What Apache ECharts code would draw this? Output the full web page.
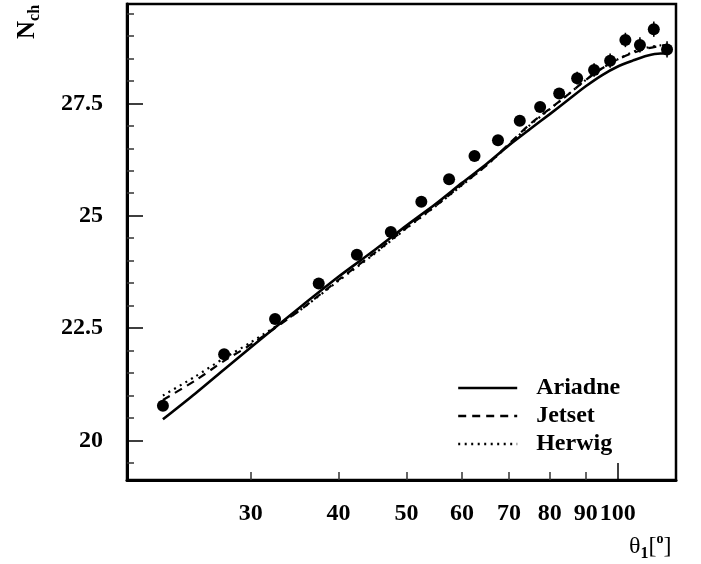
<!DOCTYPE html>
<html>
<head>
<meta charset="utf-8">
<script src="https://cdn.jsdelivr.net/npm/echarts@6/dist/echarts.min.js"></script>
<style>
html,body{margin:0;padding:0;background:#fff;}
#chart{width:701px;height:564px;}
</style>
</head>
<body>
<div id="chart"></div>
<script>
// ---- data ----
const xBins = [22.5,27.5,32.5,37.5,42.5,47.5,52.5,57.5,62.5,67.5,72.5,77.5,82.5,87.5,92.5,97.5,102.5,107.5,112.5,117.5];
const nchData = [20.77,21.92,22.70,23.49,24.13,24.64,25.31,25.81,26.33,26.68,27.11,27.42,27.72,28.06,28.24,28.45,28.91,28.80,29.15,28.70];
const nchErr = [0.05,0.05,0.05,0.06,0.06,0.06,0.07,0.07,0.08,0.08,0.09,0.10,0.12,0.14,0.15,0.16,0.16,0.17,0.17,0.18];

const modelX = [22.5,25,27.5,30,35,40,45,50,55,60,65,70,75,80,85,90,95,100,105,110,115,117.5];
const ariadne = [20.47,21.04,21.58,22.07,22.92,23.64,24.23,24.78,25.26,25.73,26.15,26.57,26.93,27.26,27.58,27.88,28.13,28.32,28.45,28.56,28.61,28.61];
const jetset  = [20.90,21.33,21.77,22.13,22.86,23.57,24.17,24.73,25.22,25.69,26.12,26.60,27.04,27.38,27.70,28.02,28.28,28.48,28.62,28.72,28.78,28.80];
const herwig  = [21.00,21.42,21.83,22.18,22.86,23.55,24.15,24.72,25.21,25.68,26.12,26.58,27.02,27.37,27.70,28.02,28.28,28.48,28.64,28.74,28.79,28.80];

const xTickLabels = [30,40,50,60,70,80,90,100];
const xMinorTicks = [30,40,50,60,70,80,90];
const xMajorTicks = [100];
const yTickLabels = [20,22.5,25,27.5];
const yMinorTicks = [19.5,20.5,21,21.5,22,23,23.5,24,24.5,25.5,26,26.5,27,28,28.5,29,29.5];

const xRange = [20,121];
const yRange = [19.12,29.71];
const seriesNames = ['Ariadne','Jetset','Herwig'];

// ---- build ----
const pair = (xs, ys) => xs.map((x,i)=>[x, ys[i]]);
const serif = 'Liberation Serif';

const chart = echarts.init(document.getElementById('chart'), null, {renderer:'canvas'});
const option = {
  animation:false,
  backgroundColor:'#fff',
  grid:{left:127,right:25,top:4,bottom:84,show:true,borderColor:'#000',borderWidth:2.5,backgroundColor:'transparent'},
  xAxis:[
    {type:'log',logBase:10,min:xRange[0],max:xRange[1],gridIndex:0,position:'bottom',
     axisLine:{show:true,onZero:false,lineStyle:{color:'#000',width:3}},
     axisTick:{show:true,inside:true,length:8,customValues:xMinorTicks,lineStyle:{color:'#333',width:1.5}},
     axisLabel:{show:true,customValues:xTickLabels,margin:22,color:'#000',fontFamily:serif,fontWeight:'bold',fontSize:24,hideOverlap:false,formatter:v=>String(Math.round(v))},
     splitLine:{show:false},minorTick:{show:false},minorSplitLine:{show:false}},
    {type:'log',logBase:10,min:xRange[0],max:xRange[1],gridIndex:0,position:'bottom',
     axisLine:{show:false,onZero:false},
     axisTick:{show:true,inside:true,length:17,customValues:xMajorTicks,lineStyle:{color:'#000',width:1.5}},
     axisLabel:{show:false},splitLine:{show:false}}
  ],
  yAxis:[
    {type:'value',min:yRange[0],max:yRange[1],gridIndex:0,
     axisLine:{show:true,onZero:false,lineStyle:{color:'#000',width:3}},
     axisTick:{show:true,inside:true,length:16,customValues:yTickLabels,lineStyle:{color:'#000',width:1.5}},
     axisLabel:{show:true,customValues:yTickLabels,margin:24,color:'#000',fontFamily:serif,fontWeight:'bold',fontSize:24},
     splitLine:{show:false}},
    {type:'value',min:yRange[0],max:yRange[1],gridIndex:0,position:'left',
     axisLine:{show:false,onZero:false},
     axisTick:{show:true,inside:true,length:7,customValues:yMinorTicks,lineStyle:{color:'#333',width:1.5}},
     axisLabel:{show:false},splitLine:{show:false}}
  ],
  legend:{
    show:true,
    data:seriesNames,orient:'vertical',left:452,top:371,itemWidth:59,itemHeight:14,itemGap:4,
    textStyle:{fontFamily:serif,fontWeight:'bold',fontSize:24,color:'#000',lineHeight:24,padding:[0,0,0,14]},
    itemStyle:{opacity:0},
    lineStyle:{width:2.4},
    selectedMode:false
  },
  series:[
    {name:'Ariadne',type:'line',data:pair(modelX,ariadne),showSymbol:false,symbol:'none',smooth:0.25,
     lineStyle:{color:'#000',width:2.6,type:'solid'},itemStyle:{color:'#000'},z:3},
    {name:'Jetset',type:'line',data:pair(modelX,jetset),showSymbol:false,symbol:'none',smooth:0.25,
     lineStyle:{color:'#000',width:2.2,type:[8,6]},itemStyle:{color:'#000'},z:3},
    {name:'Herwig',type:'line',data:pair(modelX,herwig),showSymbol:false,symbol:'none',smooth:0.25,
     lineStyle:{color:'#000',width:2.2,type:[2,4.5]},itemStyle:{color:'#000'},z:3},
    {name:'Data',type:'custom',data:xBins.map((x,i)=>[x,nchData[i],nchErr[i]]),z:4,
     renderItem:function(params,api){
       const x=api.value(0), y=api.value(1), e=api.value(2);
       const p1=api.coord([x,y+e]), p2=api.coord([x,y-e]);
       return {type:'line',shape:{x1:p1[0],y1:p1[1],x2:p2[0],y2:p2[1]},style:{stroke:'#000',lineWidth:1.6}};
     }},
    {name:'Data',type:'scatter',data:pair(xBins,nchData),symbol:'circle',symbolSize:12,
     itemStyle:{color:'#000',opacity:1},z:5}
  ],
  graphic:[
    {type:'text',x:28,y:22,rotation:Math.PI/2,
     style:{text:'{n|N}{s|ch}',align:'center',verticalAlign:'middle',
       rich:{n:{fontFamily:serif,fontWeight:'bold',fontSize:25,lineHeight:30,fill:'#000',verticalAlign:'middle'},
             s:{fontFamily:serif,fontWeight:'bold',fontSize:16,lineHeight:14,fill:'#000',verticalAlign:'bottom'}}}},
    {type:'text',x:629,y:547,
     style:{text:'{t|θ}{s|1}{b|[}{p|o}{b|]}',align:'left',verticalAlign:'middle',
       rich:{t:{fontFamily:serif,fontSize:24,lineHeight:30,fill:'#000',verticalAlign:'middle'},
             s:{fontFamily:serif,fontWeight:'bold',fontSize:16,lineHeight:14,fill:'#000',verticalAlign:'bottom'},
             b:{fontFamily:serif,fontSize:24,lineHeight:30,fill:'#000',verticalAlign:'middle'},
             p:{fontFamily:serif,fontWeight:'bold',fontSize:14,lineHeight:14,fill:'#000',verticalAlign:'top'}}}}
  ]
};
chart.setOption(option);
</script>
</body>
</html>
